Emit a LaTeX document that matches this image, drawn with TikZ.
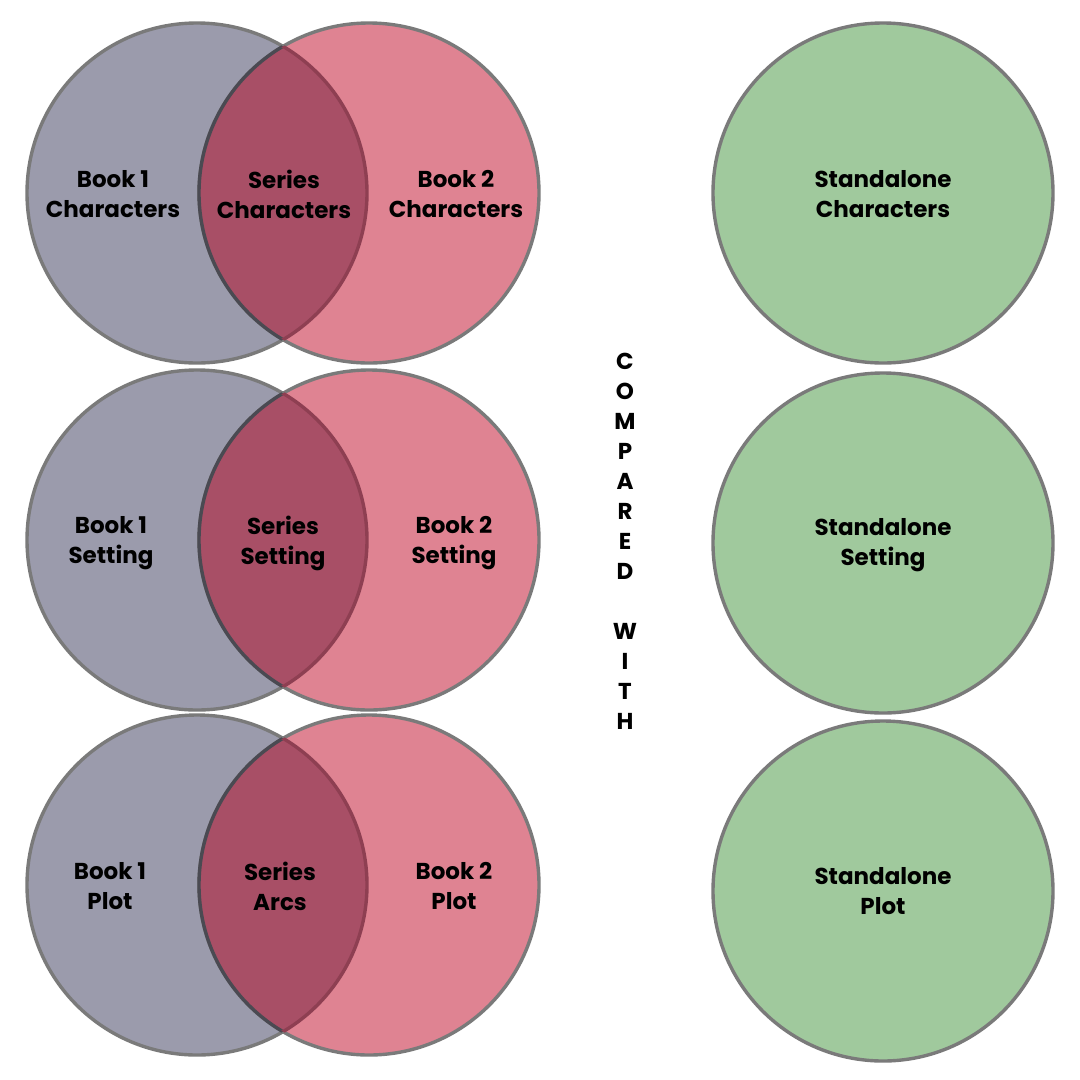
\documentclass[tikz,border=0pt]{standalone}
\usepackage{fontspec}
\setmainfont{Poppins}
\usetikzlibrary{positioning}

\definecolor{bookgray}{HTML}{9B9BAC}
\definecolor{bookpink}{HTML}{DF8392}
\definecolor{lensred}{HTML}{A84F66}
\definecolor{standgreen}{HTML}{A0C99D}
\definecolor{ringgray}{HTML}{7A7A7A}
\definecolor{ringdark}{HTML}{4A4A52}
\definecolor{ringred}{HTML}{8E3F52}

\tikzset{
  ring/.style={circle, inner sep=0pt, minimum size=340pt, draw=ringgray, line width=3.4pt},
  bookone/.style={ring, fill=bookgray},
  booktwo/.style={ring, fill=bookpink},
  standalone/.style={ring, fill=standgreen},
  lbl/.style={align=center, font=\bfseries\fontsize{23}{30}\selectfont, inner sep=0pt}
}

\begin{document}
\begin{tikzpicture}[x=1pt, y=-1pt]

    % ------------------ Canvas ------------------
    \fill[white] (0,0) rectangle (1080,1080);
    \useasboundingbox (0,0) rectangle (1080,1080);

    % ------------------ Venn rows ------------------
    \foreach \row/\cy in {1/193, 2/540, 3/885} {
      \node[bookone] (one\row) at (197,\cy) {};
      \node[booktwo] (two\row) at (369,\cy) {};
      % overlap of the two books
      \begin{scope}
        \clip (one\row.center) circle (170pt);
        \fill[lensred] (two\row.center) circle (170pt);
        \draw[ringdark, line width=3.4pt] (two\row.center) circle (170pt);
      \end{scope}
      \begin{scope}
        \clip (two\row.center) circle (170pt);
        \draw[ringred, line width=3.4pt] (one\row.center) circle (170pt);
      \end{scope}
    }

    % ------------------ Standalone column ------------------
    \node[standalone] (alone1) at (883,193) {};
    \node[standalone] (alone2) at (883,543) {};
    \node[standalone] (alone3) at (883,891) {};

    % ------------------ Labels ------------------
    \node[lbl] (b1char) at (113,194) {Book 1\\Characters};
    \node[lbl] (serchar) at (284,194) {Series\\Characters};
    \node[lbl] (b2char) at (456,194) {Book 2\\Characters};
    \node[lbl] (stchar) at (883,194) {Standalone\\Characters};

    \node[lbl] (b1set) at (111,543) {Book 1\\Setting};
    \node[lbl] (serset) at (283,543) {Series\\Setting};
    \node[lbl] (b2set) at (454,543) {Book 2\\Setting};
    \node[lbl] (stset) at (883,545) {Standalone\\Setting};

    \node[lbl] (b1plot) at (110,886) {Book 1\\Plot};
    \node[lbl] (serarcs) at (280,886) {Series\\Arcs};
    \node[lbl] (b2plot) at (454,886) {Book 2\\Plot};
    \node[lbl] (stplot) at (883,891) {Standalone\\Plot};

    % ------------------ Middle text ------------------
    \node[lbl] (compared) at (625,541)
    {C\\O\\M\\P\\A\\R\\E\\D\\[30pt]W\\I\\T\\H};

\end{tikzpicture}
\end{document}
